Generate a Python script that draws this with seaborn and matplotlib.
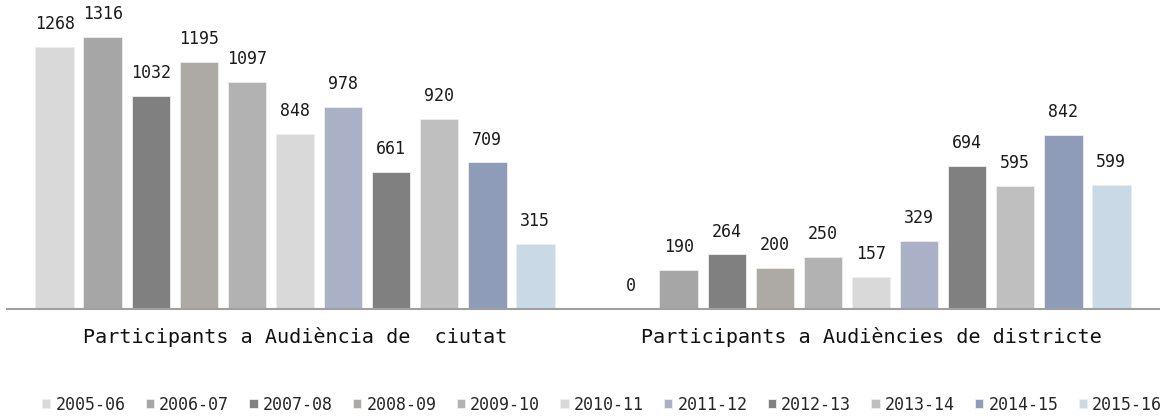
import pandas as pd
import matplotlib.pyplot as plt
import seaborn as sns

# categories, seasons and values
groups = ["Participants a Audiència de  ciutat", "Participants a Audiències de districte"]
seasons = ["2005-06", "2006-07", "2007-08", "2008-09", "2009-10", "2010-11",
           "2011-12", "2012-13", "2013-14", "2014-15", "2015-16"]
ciutat = [1268, 1316, 1032, 1195, 1097, 848, 978, 661, 920, 709, 315]
districte = [0, 190, 264, 200, 250, 157, 329, 694, 595, 842, 599]
colors = ["#d9d9d9", "#a6a6a6", "#808080", "#adaaa5", "#b2b2b2", "#d9d9d9",
          "#aab0c6", "#808080", "#bfbfbf", "#8e9cba", "#c9dae6"]

df = pd.DataFrame({
    "grup": [groups[0]] * len(seasons) + [groups[1]] * len(seasons),
    "temporada": seasons * 2,
    "participants": ciutat + districte,
})

sns.set_theme(style="white")
plt.rcParams['font.family'] = ['DejaVu Sans Mono']

fig = plt.figure(figsize=(11.69, 4.18), dpi=100)
ax = fig.add_axes([7 / 1169, 0.2608, 1152 / 1169, 0.72])

sns.barplot(data=df, x="grup", y="participants", hue="temporada",
            palette=colors, width=0.917, gap=0.19, ax=ax, saturation=1,
            edgecolor="#eeeeee", linewidth=0.6)

for cont in ax.containers:
    ax.bar_label(cont, padding=10, fontsize=12, color="#1a1a1a")

ax.set_ylim(0, 1456)
ax.set_xlim(-0.5, 1.5)
ax.set_yticks([])
ax.set_xlabel("")
ax.set_ylabel("")
ax.tick_params(axis="x", length=0, pad=13, labelsize=14.5, labelcolor="#111111")
for s in ["top", "left", "right"]:
    ax.spines[s].set_visible(False)
ax.spines["bottom"].set_color("#a0a0a0")
ax.spines["bottom"].set_linewidth(1.5)

handles, labels = ax.get_legend_handles_labels()
ax.get_legend().remove()
fig.legend(handles, labels, loc="center", bbox_to_anchor=(0.515, 0.032), ncol=11,
           frameon=False, fontsize=12, handlelength=0.5, handleheight=0.5,
           handletextpad=0.3, columnspacing=1.22)

fig.savefig("out.png", dpi=100)
